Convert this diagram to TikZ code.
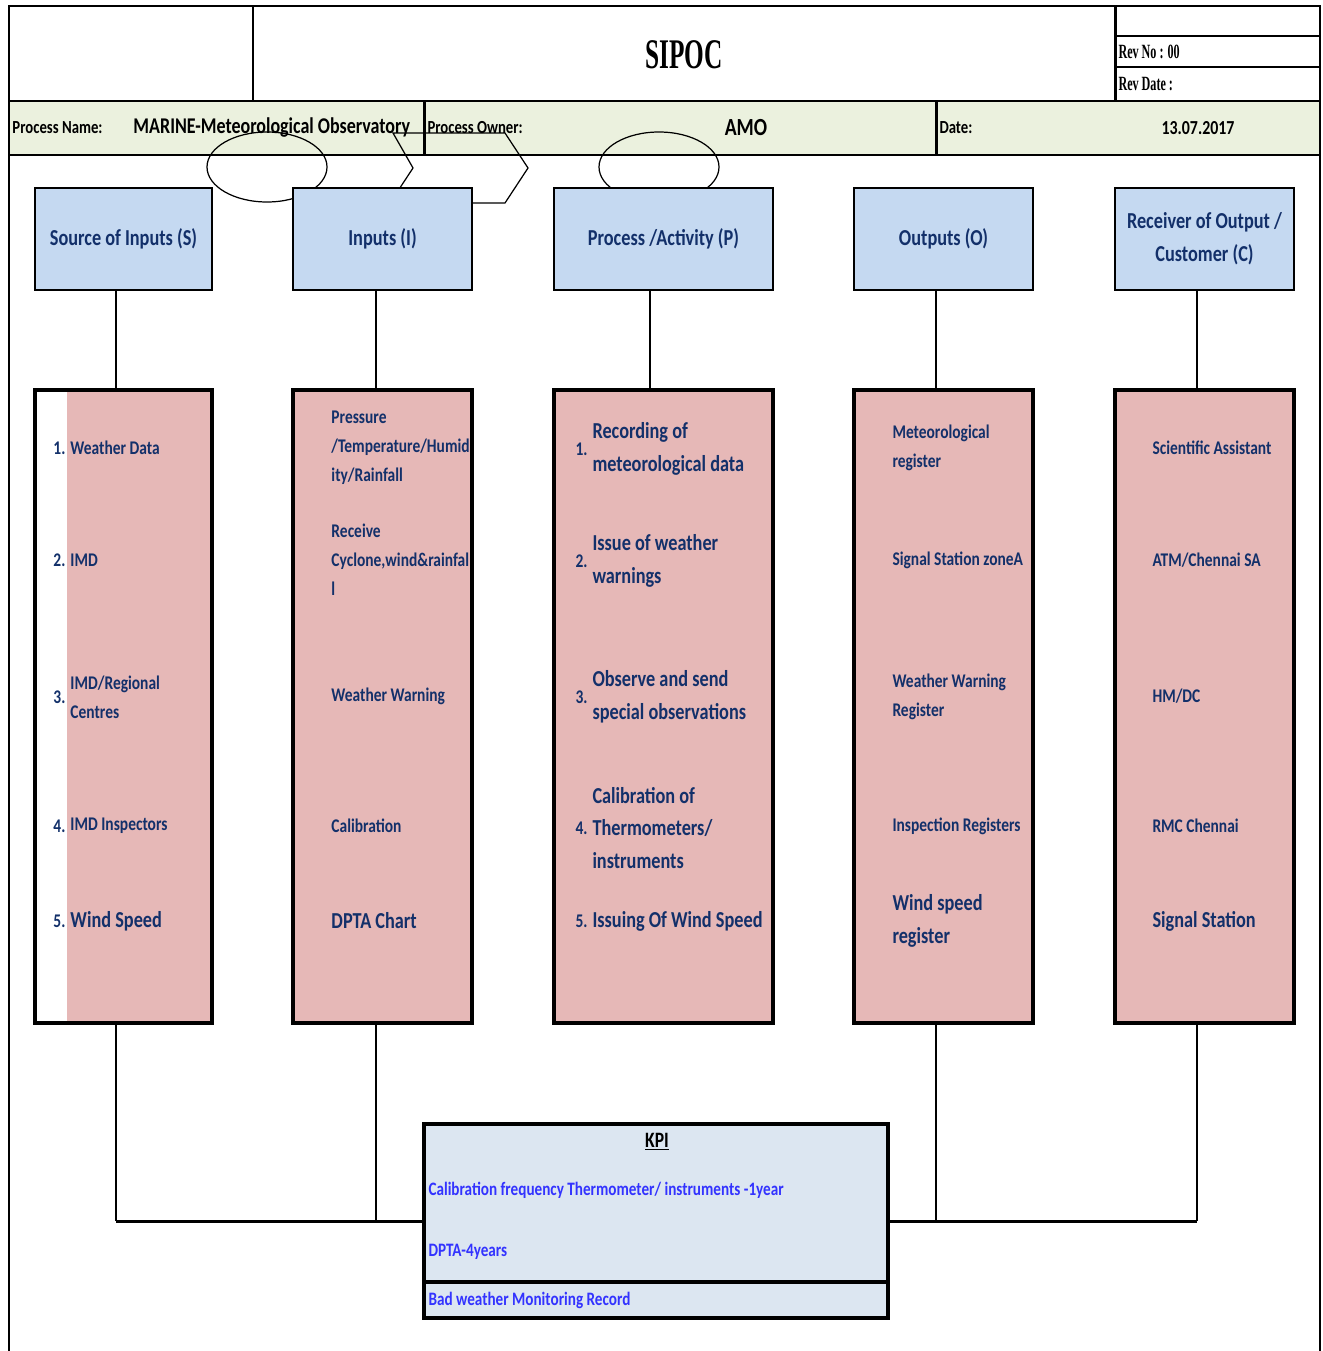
\documentclass[tikz,border=0pt]{standalone}
\usepackage{fontspec}
\setmainfont{Carlito}[FakeStretch=0.8]
\newfontfamily\titlefont{Liberation Serif}[FakeStretch=0.6]
\usetikzlibrary{fit}
\definecolor{hdrBlue}{HTML}{C5D9F1}
\definecolor{boxPink}{HTML}{E6B8B7}
\definecolor{rowGreen}{HTML}{EBF1DE}
\definecolor{kpiBlue}{HTML}{DCE6F1}
\definecolor{myNavy}{HTML}{13306A}
\definecolor{myLink}{HTML}{3333FF}

\begin{document}
\begin{tikzpicture}[x=0.02cm, y=-0.02cm, line width=1.7pt]

  \tikzstyle{H}=[rectangle,draw,line width=1pt,fill=hdrBlue,text=myNavy,inner sep=0pt,minimum height=2.04cm,align=center,font=\fontsize{13}{18.7}\selectfont\bfseries]
  \tikzstyle{B}=[rectangle,draw,line width=1.8pt,fill=boxPink,inner sep=0pt]
  \tikzstyle{T}=[text=myNavy,anchor=west,align=left,inner sep=0pt,font=\fontsize{11}{16.4}\selectfont\bfseries]
  \tikzstyle{L}=[text=myNavy,anchor=west,align=left,inner sep=0pt,font=\fontsize{13}{18.7}\selectfont\bfseries]
  \tikzstyle{N}=[text=myNavy,anchor=west,inner sep=0pt,font=\fontsize{11}{12}\selectfont\bfseries]
  \tikzstyle{R}=[anchor=west,inner sep=0pt,font=\fontsize{10.5}{12}\selectfont\bfseries]
  \tikzstyle{K}=[text=myLink,anchor=west,inner sep=0pt,font=\fontsize{10.8}{12}\selectfont\bfseries]

  \useasboundingbox (0,0) rectangle (1322,1351);

  % header table
  \fill[rowGreen] (9,101) rectangle (1320,155);
  \draw (8,6) -- (1321,6);
  \draw (8,101) -- (1321,101);
  \draw (8,155) -- (1321,155);
  \draw (253,6) -- (253,101);
  \draw (1115,6) -- (1115,101);
  \draw (1115,36) -- (1320,36);
  \draw (1115,67) -- (1320,67);
  \draw (424,101) -- (424,155);
  \draw (936,101) -- (936,155);
  \draw[line width=1.1pt] (9,6) -- (9,1351);
  \draw[line width=1.1pt] (1320,6) -- (1320,1351);

  \node (title) at (684,55) {\titlefont\fontsize{24}{26}\selectfont\bfseries SIPOC};
  \node[R] (revno) at (1117,52) {\titlefont\fontsize{11.5}{13}\selectfont\bfseries Rev No : 00};
  \node[R] (revdate) at (1117,84) {\titlefont\fontsize{11.5}{13}\selectfont\bfseries Rev Date :};

  \node[R] (pname) at (11,128) {Process Name:};
  \node[R,font=\fontsize{12.8}{14}\selectfont\bfseries] (pnameV) at (132,128) {MARINE-Meteorological Observatory};
  \node[R] (powner) at (426,128) {Process Owner:};
  \node[font=\fontsize{14}{16}\selectfont\bfseries] (pownerV) at (746,128) {AMO};
  \node[R] (date) at (938,128) {Date:};
  \node[font=\fontsize{11.3}{12}\selectfont\bfseries] (dateV) at (1198,128) {13.07.2017};

  % stray shapes
  \draw[line width=0.7pt] (267,167) ellipse [x radius=60, y radius=35];
  \draw[line width=0.7pt] (659,167) ellipse [x radius=60, y radius=35];
  \draw[line width=0.7pt] (393,133) -- (505,133) -- (528,168) -- (505,203) -- (390,203) -- (413,168) -- cycle;

  % column heads
  \node[H,minimum width=3.54cm] (hS) at (123.5,239) {Source of Inputs (S)};
  \node[H,minimum width=3.58cm] (hI) at (382.5,239) {Inputs (I)};
  \node[H,minimum width=4.38cm] (hP) at (663.5,239) {Process /Activity (P)};
  \node[H,minimum width=3.58cm] (hO) at (943.5,239) {Outputs (O)};
  \node[H,minimum width=3.58cm] (hC) at (1204.5,239) {Receiver of Output /\\Customer (C)};

  % column boxes
  \fill[boxPink] (67,390) rectangle (212,1023);
  \node[B,fill=none,fit={(35,390) (212,1023)}] (bS) {};
  \node[B,fit={(293,390) (472,1023)}] (bI) {};
  \node[B,fit={(554,390) (773,1023)}] (bP) {};
  \node[B,fit={(854,390) (1033,1023)}] (bO) {};
  \node[B,fit={(1115,390) (1294,1023)}] (bC) {};

  % KPI
  \node[rectangle,draw,line width=1.8pt,fill=kpiBlue,fit={(424,1124) (888,1318)},inner sep=0pt] (kpi) {};
  \draw[line width=1.8pt] (kpi.west |- 0,1282) -- (kpi.east |- 0,1282);
  \node[font=\fontsize{12.5}{14}\selectfont\bfseries] (kpiT) at (657,1142) {\underline{KPI}};
  \node[K] (kpi1) at (427,1190) {Calibration frequency Thermometer/ instruments -1year};
  \node[K] (kpi2) at (427,1252) {DPTA-4years};
  \node[K] (kpi3) at (427,1300) {Bad weather Monitoring Record};

  % joints
  \coordinate (jS) at (116,1221);
  \coordinate (jI) at (376,1221);
  \coordinate (jP) at (650,1221);
  \coordinate (jO) at (936,1221);
  \coordinate (jC) at (1197,1221);

  \draw [line width=1.4pt] (hS.south -| jS) to (bS.north -| jS);
  \draw [line width=1.4pt] (hI.south -| jI) to (bI.north -| jI);
  \draw [line width=1.4pt] (hP.south -| jP) to (bP.north -| jP);
  \draw [line width=1.4pt] (hO.south -| jO) to (bO.north -| jO);
  \draw [line width=1.4pt] (hC.south -| jC) to (bC.north -| jC);

  \draw [line width=1.1pt] (bS.south -| jS) to (jS);
  \draw [line width=1.1pt] (bI.south -| jI) to (jI);
  \draw [line width=1.1pt] (bO.south -| jO) to (jO);
  \draw [line width=1.1pt] (bC.south -| jC) to (jC);
  \draw [] (jS) to (kpi.west |- jS);
  \draw [] (kpi.east |- jO) to (jC);

  % sources
  \node[N] (sn1) at (52,448) {1.};
  \node[T] (s1) at (69,448) {Weather Data};
  \node[N] (sn2) at (52,560) {2.};
  \node[T] (s2) at (69,560) {IMD};
  \node[N] (sn3) at (52,697) {3.};
  \node[T] (s3) at (69,697) {IMD/Regional\\Centres};
  \node[N] (sn4) at (52,826) {4.};
  \node[T] (s4) at (69,826) {IMD Inspectors};
  \node[N] (sn5) at (52,921) {5.};
  \node[L] (s5) at (69,921) {Wind Speed};

  % inputs
  \node[T] (i1) at (330,448) {Pressure\\/Temperature/Humid\\ity/Rainfall};
  \node[T] (i2) at (330,560) {Receive\\Cyclone,wind\&rainfal\\l};
  \node[T] (i3) at (330,696) {Weather Warning};
  \node[T] (i4) at (330,826) {Calibration};
  \node[L] (i5) at (330,921) {DPTA Chart};

  % process
  \node[N] (pn1) at (574,449) {1.};
  \node[L] (p1) at (591,449) {Recording of\\meteorological data};
  \node[N] (pn2) at (574,561) {2.};
  \node[L] (p2) at (591,561) {Issue of weather\\warnings};
  \node[N] (pn3) at (574,697) {3.};
  \node[L] (p3) at (591,697) {Observe and send\\special observations};
  \node[N] (pn4) at (574,828) {4.};
  \node[L] (p4) at (591,828) {Calibration of\\Thermometers/\\instruments};
  \node[N] (pn5) at (574,921) {5.};
  \node[L] (p5) at (591,921) {Issuing Of Wind Speed};

  % outputs
  \node[T] (o1) at (891,448) {Meteorological\\register};
  \node[T] (o2) at (891,560) {Signal Station zoneA};
  \node[T] (o3) at (891,697) {Weather Warning\\Register};
  \node[T] (o4) at (891,826) {Inspection Registers};
  \node[L] (o5) at (891,921) {Wind speed\\register};

  % customers
  \node[T] (c1) at (1151,448) {Scientific Assistant};
  \node[T] (c2) at (1151,560) {ATM/Chennai SA};
  \node[T] (c3) at (1151,696) {HM/DC};
  \node[T] (c4) at (1151,826) {RMC Chennai};
  \node[L] (c5) at (1151,921) {Signal Station};

\end{tikzpicture}
\end{document}
